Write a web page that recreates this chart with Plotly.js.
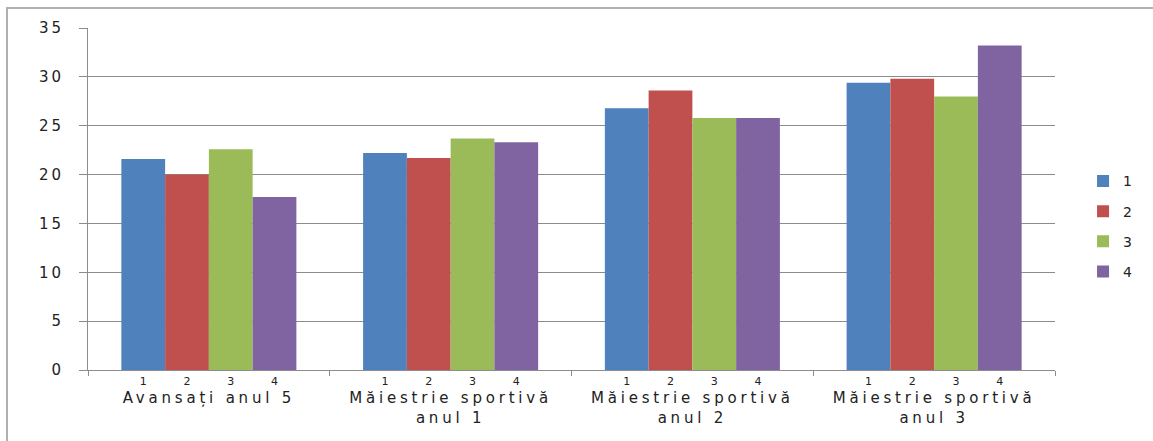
<!DOCTYPE html>
<html><head><meta charset="utf-8">
<script src="https://cdn.plot.ly/plotly-3.0.1.min.js"></script>
<style>
html,body{margin:0;padding:0;background:#fff;overflow:hidden;}
#chart{width:1153px;height:441px;}
#frame{position:absolute;left:6px;top:7px;width:1300px;height:600px;border:2px solid #b0b0b0;pointer-events:none;}
</style></head><body>
<div id="chart"></div><div id="frame"></div>
<script>
const groups = ['Avansați anul 5', 'Măiestrie sportivă<br>anul 1', 'Măiestrie sportivă<br>anul 2', 'Măiestrie sportivă<br>anul 3'];
const seriesNames = ['1', '2', '3', '4'];
const series1 = [21.6, 22.2, 26.8, 29.4];
const series2 = [20.0, 21.7, 28.6, 29.8];
const series3 = [22.6, 23.7, 25.8, 28.0];
const series4 = [17.7, 23.3, 25.8, 33.2];
const yTickVals = [0, 5, 10, 15, 20, 25, 30, 35];
const colors = ['#4F81BD', '#C0504D', '#9BBB59', '#8064A2'];

const allSeries = [series1, series2, series3, series4];
const spaced = (s, ls) => s.split('<br>').map(l => '<span style="letter-spacing:' + ls + 'px">' + l + '</span>').join('<br>');
const xLabels = groups.map(g => spaced(g, 3.8));

const traces = [];
allSeries.forEach((vals, i) => {
  traces.push({
    type: 'bar', x: xLabels, y: vals, name: seriesNames[i],
    marker: {color: colors[i]}, legendgroup: 'g' + i, offsetgroup: 's' + i, hoverinfo: 'y'
  });
});
allSeries.forEach((vals, i) => {
  traces.push({
    type: 'scatter', mode: 'markers+text', x: xLabels, y: vals.map(() => 0),
    marker: {size: 9, color: 'rgba(0,0,0,0)'},
    text: vals.map(() => seriesNames[i]), textposition: 'bottom center',
    textfont: {family: 'DejaVu Sans', size: 11, color: '#222'},
    offsetgroup: 's' + i, showlegend: false, cliponaxis: false, hoverinfo: 'skip'
  });
});

const layout = {
  width: 1153, height: 441,
  margin: {l: 88, r: 98, t: 28, b: 71},
  paper_bgcolor: '#fff', plot_bgcolor: '#fff',
  barmode: 'group', bargap: 0.276, bargroupgap: 0,
  scattermode: 'group', scattergap: 0.276,
  showlegend: true,
  font: {family: 'DejaVu Sans', color: '#333'},
  legend: {x: 1.029, xanchor: 'left', y: 0.42, yanchor: 'middle',
           font: {family: 'DejaVu Sans', size: 14, color: '#222'},
           tracegroupgap: 9, itemwidth: 30},
  xaxis: {type: 'category', tickson: 'boundaries', ticks: 'outside', ticklen: 5,
          tickcolor: '#8c8c8c', showline: true, linecolor: '#8c8c8c', linewidth: 1,
          showgrid: false, ticklabelstandoff: 14,
          tickfont: {family: 'DejaVu Sans', size: 15, color: '#222'}},
  yaxis: {range: [0, 35], tickmode: 'array', tickvals: yTickVals,
          ticktext: yTickVals.map(v => spaced(String(v), 3)),
          ticks: 'outside', ticklen: 8, tickcolor: '#8c8c8c',
          showline: true, linecolor: '#8c8c8c', linewidth: 1,
          showgrid: true, gridcolor: '#8c8c8c', gridwidth: 1, zeroline: false,
          ticklabelstandoff: 12,
          tickfont: {family: 'DejaVu Sans', size: 15, color: '#222'}}
};
Plotly.newPlot('chart', traces, layout, {displayModeBar: false, staticPlot: true});
</script></body></html>
